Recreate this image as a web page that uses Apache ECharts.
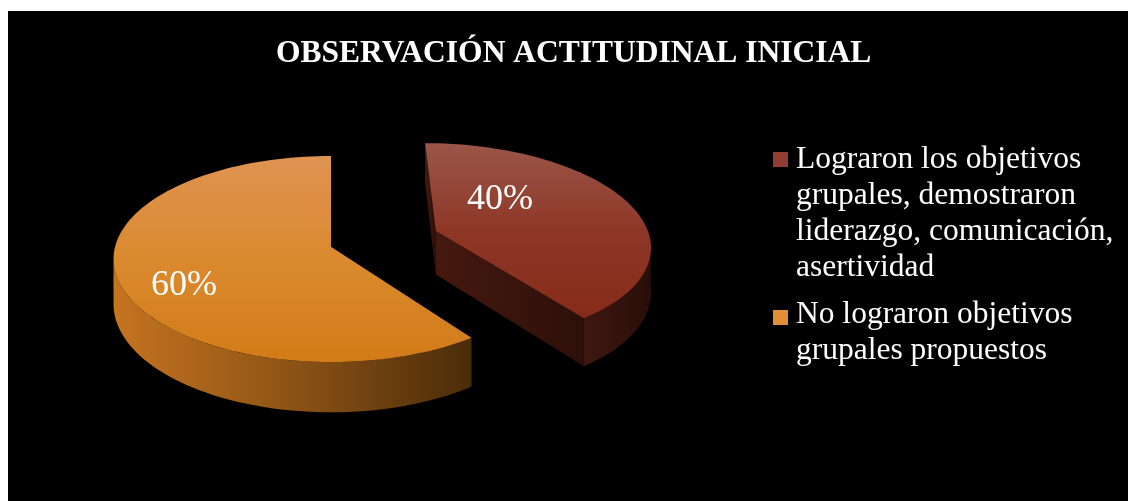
<!DOCTYPE html>
<html>
<head>
<meta charset="utf-8">
<title>Observación actitudinal inicial</title>
<script src="https://cdn.jsdelivr.net/npm/echarts@6/dist/echarts.min.js"></script>
<style>
    * { margin: 0; padding: 0; }
    body { background: #fff; width: 1128px; height: 501px; overflow: hidden; }
    #main { position: absolute; left: 8px; top: 11px; width: 1120px; height: 490px; background: #000; }
</style>
</head>
<body>
<div id="main"></div>
<script>
// data
var titleText = 'OBSERVACIÓN ACTITUDINAL INICIAL';
var categories = [
    'Lograron los objetivos grupales, demostraron liderazgo, comunicación, asertividad',
    'No lograron objetivos grupales propuestos'
];
var legendLines = [
    ['Lograron los objetivos', 'grupales, demostraron', 'liderazgo, comunicación,', 'asertividad'],
    ['No lograron objetivos', 'grupales propuestos']
];
var values = [40, 60];

// look of the 3d pie (not data)
var explode = [0.52, 0];
var labelPlace = [{ r: 0.467, turn: 26.6 }, { r: 0.748, turn: 11.4 }];
var sliceStyle = [
    { top: ['#9A5648', '#8E3727', '#862B19'], wall: ['#3E1711', '#2A0E09'], cut: ['#45190F', '#2E0F0A'], marker: '#913D33' },
    { top: ['#DF9452', '#DA8A2E', '#D27B18'], wall: ['#C67420', '#8C5315', '#4B2C09'], cut: ['#B5691C', '#9A5A18'], marker: '#E38F3A' }
];

var CX = 323, CY = 236, RX = 216, RY = 101.6, PERSP = 0.1166, DEPTH = 44.4;
var RAD = Math.PI / 180;

function proj(u, v, d) {
    var w = 1 + PERSP * v;
    return [CX + RX * u / w, CY - RY * v / w + DEPTH * d / w];
}

function arcPts(ox, oy, a0, a1, d) {
    var pts = [];
    var n = Math.max(2, Math.ceil(Math.abs(a1 - a0) / 2));
    for (var k = 0; k <= n; k++) {
        var a = (a0 + (a1 - a0) * k / n) * RAD;
        pts.push(proj(ox + Math.cos(a), oy + Math.sin(a), d));
    }
    return pts;
}

function grad(colors, horizontal) {
    var stops = colors.map(function (c, i) {
        return { offset: i / (colors.length - 1), color: c };
    });
    return horizontal ? new echarts.graphic.LinearGradient(0, 0, 1, 0, stops)
                      : new echarts.graphic.LinearGradient(0, 0, 0, 1, stops);
}

var total = values.reduce(function (s, v) { return s + v; }, 0);
var edge = Math.asin(PERSP) / RAD; // where the side wall turns away

function renderItem(params, api) {
    var i = params.dataIndex;
    var before = 0;
    for (var j = 0; j < i; j++) before += values[j];
    var a1 = 90 - 360 * before / total;
    var a0 = 90 - 360 * (before + api.value(0)) / total;
    var mid = (a0 + a1) / 2;
    var ox = explode[i] * Math.cos(mid * RAD);
    var oy = explode[i] * Math.sin(mid * RAD);
    var st = sliceStyle[i];
    var kids = [];

    // cut faces
    [a0, a1].forEach(function (a) {
        var c = Math.cos(a * RAD), s = Math.sin(a * RAD);
        kids.push({
            type: 'polygon',
            shape: { points: [proj(ox, oy, 0), proj(ox + c, oy + s, 0), proj(ox + c, oy + s, 1), proj(ox, oy, 1)] },
            style: { fill: grad(st.cut, true) }
        });
    });

    // front wall
    for (var k = -1; k <= 1; k++) {
        var lo = Math.max(a0, -180 + edge + 360 * k);
        var hi = Math.min(a1, -edge + 360 * k);
        if (hi > lo) {
            var topArc = arcPts(ox, oy, lo, hi, 0);
            var botArc = arcPts(ox, oy, lo, hi, 1).reverse();
            kids.push({
                type: 'polygon',
                shape: { points: topArc.concat(botArc) },
                style: { fill: grad(st.wall, true) }
            });
        }
    }

    // top face
    kids.push({
        type: 'polygon',
        shape: { points: [proj(ox, oy, 0)].concat(arcPts(ox, oy, a0, a1, 0)) },
        style: { fill: grad(st.top, false) }
    });

    // percent label
    var la = (mid + labelPlace[i].turn) * RAD;
    var lp = proj(ox + labelPlace[i].r * Math.cos(la), oy + labelPlace[i].r * Math.sin(la), 0);
    kids.push({
        type: 'text',
        style: {
            x: lp[0], y: lp[1],
            text: Math.round(api.value(0) / total * 100) + '%',
            fill: '#fff',
            font: '36px "Liberation Serif"',
            align: 'center', verticalAlign: 'middle',
            textAlign: 'center', textVerticalAlign: 'middle'
        }
    });

    return { type: 'group', children: kids };
}

var legendGraphics = [];
var legendTop = [130.3, 285.3];
var markerTop = [141, 299];
categories.forEach(function (name, i) {
    legendGraphics.push({
        type: 'rect', left: 765, top: markerTop[i],
        shape: { width: 15, height: 15 },
        style: { fill: sliceStyle[i].marker }
    });
    legendGraphics.push({
        type: 'text', left: 788, top: legendTop[i],
        style: {
            text: legendLines[i].join('\n'),
            fill: '#fff',
            font: '31.5px "Liberation Serif"',
            lineHeight: 36.2
        }
    });
});

var chart = echarts.init(document.getElementById('main'));
chart.setOption({
    backgroundColor: '#000',
    animation: false,
    title: {
        text: titleText,
        left: 268, top: 27, padding: 0,
        textStyle: { color: '#fff', fontFamily: 'Liberation Serif', fontWeight: 'bold', fontSize: 31.5, lineHeight: 32 }
    },
    graphic: legendGraphics,
    series: [{
        type: 'custom',
        name: 'Observación',
        coordinateSystem: 'none',
        renderItem: renderItem,
        data: values.map(function (v, i) { return { name: categories[i], value: v }; })
    }]
});
</script>
</body>
</html>
